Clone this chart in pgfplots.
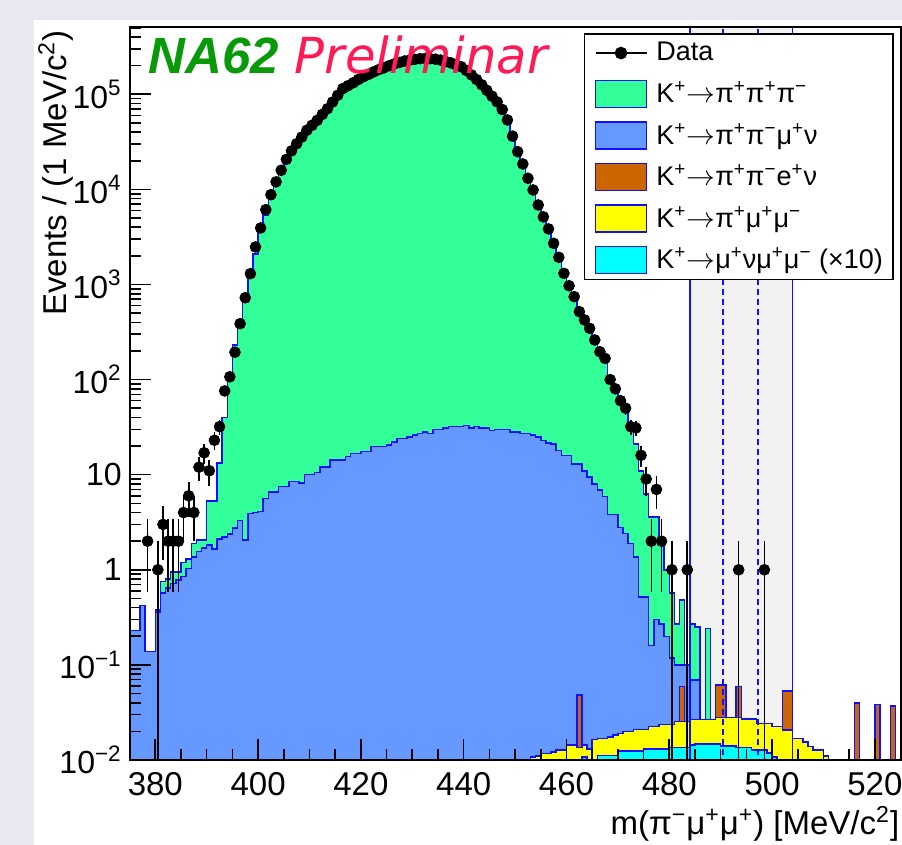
\documentclass[border=0pt]{standalone}
\usepackage{fontspec}
\setmainfont{Liberation Sans}
\newfontfamily\dejavu{DejaVu Sans}
\usepackage{pgfplots}
\usepackage{pgfplotstable}
\pgfplotsset{compat=1.18}
\definecolor{bgl}{HTML}{E8E8F0}
\definecolor{gfill}{HTML}{33FF99}
\definecolor{bfill}{HTML}{6699FF}
\definecolor{ofill}{HTML}{CC6600}
\definecolor{yfill}{HTML}{FFFF00}
\definecolor{cfill}{HTML}{00FFFF}
\definecolor{outl}{HTML}{1010FF}
\definecolor{bandc}{HTML}{F2F2F2}
\definecolor{nagreen}{HTML}{089A08}
\definecolor{prered}{HTML}{FF1A55}

\pgfplotstableread{
x C Y O B G
375 0.001 0.001 0.001 0.23 0.23
376 0.001 0.001 0.001 0.23 0.23
377 0.001 0.001 0.001 0.42 0.42
378 0.001 0.001 0.001 0.138 0.138
379 0.001 0.001 0.001 0.138 0.138
380 0.001 0.001 0.001 0.36 0.38
381 0.001 0.001 0.001 0.57 0.75
382 0.001 0.001 0.001 0.64 0.8
383 0.001 0.001 0.001 0.72 0.95
384 0.001 0.001 0.001 0.78 0.95
385 0.001 0.001 0.001 0.85 1.2
386 0.001 0.001 0.001 1.03 1.3
387 0.001 0.001 0.001 1.37 1.88
388 0.001 0.001 0.001 1.55 2.06
389 0.001 0.001 0.001 1.70 2.06
390 0.001 0.001 0.001 1.83 5.3
391 0.001 0.001 0.001 1.65 5.3
392 0.001 0.001 0.001 2.1 13.2
393 0.001 0.001 0.001 2.2 40
394 0.001 0.001 0.001 2.37 110
395 0.001 0.001 0.001 2.75 230
396 0.001 0.001 0.001 3.3 400
397 0.001 0.001 0.001 2.06 650
398 0.001 0.001 0.001 3.9 1200
399 0.001 0.001 0.001 4.0 2100
400 0.001 0.001 0.001 4.1 3600
401 0.001 0.001 0.001 5.6 5400
402 0.001 0.001 0.001 6.6 7800
403 0.001 0.001 0.001 6.6 10800
404 0.001 0.001 0.001 7.5 14500
405 0.001 0.001 0.001 7.5 19000
406 0.001 0.001 0.001 8.5 24000
407 0.001 0.001 0.001 8.5 29000
408 0.001 0.001 0.001 8.2 34000
409 0.001 0.001 0.001 10 40000
410 0.001 0.001 0.001 10 45000
411 0.001 0.001 0.001 10.5 51000
412 0.001 0.001 0.001 12.1 59000
413 0.001 0.001 0.001 12.1 67000
414 0.001 0.001 0.001 14.3 78000
415 0.001 0.001 0.001 14.3 92000
416 0.001 0.001 0.001 14.3 107000
417 0.001 0.001 0.001 15.5 116000
418 0.001 0.001 0.001 16.7 125000
419 0.001 0.001 0.001 16.7 135000
420 0.001 0.001 0.001 17.5 145000
421 0.001 0.001 0.001 17.5 154000
422 0.001 0.001 0.001 19.7 163000
423 0.001 0.001 0.001 19.7 172000
424 0.001 0.001 0.001 19.7 180000
425 0.001 0.001 0.001 20.5 188000
426 0.001 0.001 0.001 22 196000
427 0.001 0.001 0.001 24 203000
428 0.001 0.001 0.001 24 210000
429 0.001 0.001 0.001 25 215000
430 0.001 0.001 0.001 26 219000
431 0.001 0.001 0.001 27 222000
432 0.001 0.001 0.001 28 223000
433 0.001 0.001 0.001 27 222000
434 0.001 0.001 0.001 30 220000
435 0.001 0.001 0.001 30 216000
436 0.001 0.001 0.001 31 210000
437 0.001 0.001 0.001 32 204000
438 0.001 0.001 0.001 32 196000
439 0.001 0.001 0.001 32 188000
440 0.001 0.001 0.001 33 175000
441 0.001 0.001 0.001 31 160000
442 0.001 0.001 0.001 32 145000
443 0.001 0.001 0.001 31 129000
444 0.001 0.001 0.001 31 114000
445 0.001 0.001 0.001 29 99000
446 0.001 0.001 0.001 30 87000
447 0.001 0.001 0.001 30 73000
448 0.001 0.001 0.001 30 57000
449 0.001 0.001 0.001 28 39000
450 0.001 0.001 0.001 28 27000
451 0.001 0.001 0.001 27 20000
452 0.001 0.001 0.001 27 14200
453 0.001 0.0108 0.0108 26 10700
454 0.001 0.011 0.011 25 7400
455 0.001 0.0117 0.0117 23 5600
456 0.001 0.0117 0.0117 21.5 4200
457 0.001 0.0122 0.0122 21 2950
458 0.001 0.0127 0.0127 18 2100
459 0.001 0.0127 0.0127 16 1430
460 0.001 0.0144 0.0144 16 1060
461 0.001 0.0144 0.0144 13 810
462 0.001 0.0135 0.048 13 570
463 0.0108 0.0144 0.0144 11 465
464 0.001 0.013 0.013 9.5 380
465 0.001 0.0165 0.0165 8 285
466 0.0112 0.0169 0.0169 6.9 215
467 0.0112 0.0169 0.0169 5.9 175
468 0.0112 0.0175 0.0175 3.8 108
469 0.0112 0.0183 0.0183 3.8 86
470 0.0125 0.019 0.019 2.8 64
471 0.0125 0.02 0.02 2.4 50
472 0.0125 0.02 0.02 1.9 32
473 0.0125 0.021 0.021 1.37 21
474 0.0125 0.021 0.021 0.52 11
475 0.013 0.021 0.021 0.52 6.3
476 0.013 0.0224 0.0224 0.16 3.6
477 0.013 0.0224 0.0224 0.3 3.6
478 0.013 0.0236 0.0236 0.27 2.0
479 0.013 0.0236 0.0236 0.2 1.0
480 0.0136 0.0236 0.0236 0.118 0.57
481 0.0136 0.0253 0.0253 0.1 0.27
482 0.0136 0.0253 0.059 0.1 0.48
483 0.0136 0.0253 0.0253 0.1 0.1
484 0.0144 0.0268 0.0268 0.069 0.27
485 0.0147 0.0268 0.0268 0.069 0.25
486 0.0147 0.0268 0.0268 0.0268 0.0268
487 0.0147 0.0268 0.0268 0.0268 0.24
488 0.0147 0.0268 0.0268 0.0268 0.0268
489 0.0147 0.028 0.0615 0.0615 0.0615
490 0.014 0.028 0.0615 0.0615 0.0615
491 0.014 0.028 0.028 0.028 0.028
492 0.014 0.028 0.028 0.028 0.028
493 0.0136 0.028 0.059 0.059 0.059
494 0.0136 0.027 0.027 0.027 0.027
495 0.0136 0.027 0.027 0.027 0.027
496 0.0127 0.027 0.027 0.027 0.027
497 0.0127 0.0242 0.0242 0.0242 0.0242
498 0.0127 0.0242 0.0242 0.0242 0.0242
499 0.0118 0.0242 0.0242 0.0242 0.0242
500 0.0108 0.0224 0.0224 0.0224 0.0224
501 0.009 0.0224 0.0224 0.0224 0.0224
502 0.001 0.0207 0.053 0.053 0.053
503 0.001 0.0207 0.053 0.053 0.053
504 0.001 0.0169 0.0169 0.0169 0.0169
505 0.001 0.0169 0.0169 0.0169 0.0169
506 0.001 0.0155 0.0155 0.0155 0.0155
507 0.001 0.0138 0.0138 0.0138 0.0138
508 0.001 0.0127 0.0127 0.0127 0.0127
509 0.001 0.0127 0.0127 0.0127 0.0127
510 0.001 0.011 0.011 0.011 0.011
511 0.001 0.0096 0.0096 0.0096 0.0096
512 0.001 0.001 0.001 0.001 0.001
513 0.001 0.001 0.001 0.001 0.001
514 0.001 0.001 0.001 0.001 0.001
515 0.001 0.001 0.001 0.001 0.001
516 0.001 0.001 0.0398 0.0398 0.0398
517 0.001 0.001 0.001 0.001 0.001
518 0.001 0.001 0.001 0.001 0.001
519 0.001 0.001 0.001 0.001 0.001
520 0.001 0.001 0.0385 0.0385 0.0385
521 0.001 0.001 0.001 0.001 0.001
522 0.001 0.001 0.001 0.001 0.001
523 0.001 0.001 0.037 0.037 0.037
524 0.001 0.001 0.001 0.001 0.001
525 0.001 0.001 0.001 0.001 0.001
}\hist

\pgfplotstableread{
x y ex ep em
378.5 2 0.5 1.414 1.414
380.5 1 0.5 1 0.999
381.5 3 0.5 1.732 1.732
382.5 2 0.5 1.414 1.414
383.5 2 0.5 1.414 1.414
384.5 2 0.5 1.414 1.414
385.5 4 0.5 2 2
386.5 6 0.5 2.449 2.449
387.5 4 0.5 2 2
388.5 12 0.5 3.464 3.464
389.5 17 0.5 4.123 4.123
390.5 11 0.5 3.317 3.317
391.5 23 0.5 4.796 4.796
392.5 32 0.5 5.657 5.657
393.5 76 0.5 8.718 8.718
394.5 107 0.5 10.34 10.34
395.5 194 0.5 13.93 13.93
396.5 387 0.5 19.67 19.67
397.5 726 0.5 26.9 26.9
398.5 1300 0.5 36.1 36.1
399.5 2480 0.5 49.8 49.8
400.5 3930 0.5 62.7 62.7
401.5 6120 0.5 78.2 78.2
402.5 8800 0.5 93.8 93.8
403.5 12000 0.5 109.5 109.5
404.5 15900 0.5 126.1 126.1
405.5 20700 0.5 143.9 143.9
406.5 25400 0.5 159.4 159.4
407.5 30200 0.5 173.8 173.8
408.5 35500 0.5 188.4 188.4
409.5 41900 0.5 204.7 204.7
410.5 47200 0.5 217.3 217.3
411.5 53200 0.5 230.7 230.7
412.5 61500 0.5 248 248
413.5 70500 0.5 265.5 265.5
414.5 83000 0.5 288 288
415.5 97700 0.5 313 313
416.5 115000 0.5 339 339
417.5 123000 0.5 351 351
418.5 132000 0.5 363 363
419.5 143000 0.5 378 378
420.5 153000 0.5 391 391
421.5 162000 0.5 402 402
422.5 172000 0.5 415 415
423.5 182000 0.5 427 427
424.5 190000 0.5 436 436
425.5 200000 0.5 447 447
426.5 209000 0.5 457 457
427.5 216000 0.5 465 465
428.5 224000 0.5 473 473
429.5 229000 0.5 479 479
430.5 233000 0.5 483 483
431.5 237000 0.5 487 487
432.5 238000 0.5 488 488
433.5 237000 0.5 487 487
434.5 234000 0.5 484 484
435.5 229000 0.5 479 479
436.5 221000 0.5 470 470
437.5 214000 0.5 463 463
438.5 204000 0.5 452 452
439.5 195000 0.5 442 442
440.5 178000 0.5 422 422
441.5 160000 0.5 400 400
442.5 143000 0.5 378 378
443.5 126000 0.5 355 355
444.5 110000 0.5 332 332
445.5 95500 0.5 309 309
446.5 83200 0.5 288 288
447.5 69200 0.5 263 263
448.5 53700 0.5 232 232
449.5 36300 0.5 191 191
450.5 24900 0.5 158 158
451.5 18500 0.5 136 136
452.5 13100 0.5 114 114
453.5 9870 0.5 99 99
454.5 6860 0.5 83 83
455.5 5140 0.5 72 72
456.5 3840 0.5 62 62
457.5 2710 0.5 52 52
458.5 1930 0.5 44 44
459.5 1310 0.5 36 36
460.5 970 0.5 31 31
461.5 745 0.5 27.3 27.3
462.5 518 0.5 22.8 22.8
463.5 424 0.5 20.6 20.6
464.5 346 0.5 18.6 18.6
465.5 261 0.5 16.2 16.2
466.5 196 0.5 14 14
467.5 167 0.5 12.9 12.9
468.5 100 0.5 10 10
469.5 80 0.5 8.94 8.94
470.5 60 0.5 7.75 7.75
471.5 50 0.5 7.07 7.07
472.5 32 0.5 5.66 5.66
473.5 31 0.5 5.57 5.57
474.5 16 0.5 4 4
475.5 9 0.5 3 3
476.5 2 0.5 1.414 1.414
477.5 7 0.5 2.646 2.646
478.5 2 0.5 1.414 1.414
480.5 1 0.5 1 0.999
483.5 1 0.5 1 0.999
493.5 1 0.5 1 0.999
498.5 1 0.5 1 0.999
}\data

\begin{document}
\begin{tikzpicture}[x=1pt,y=1pt]
\useasboundingbox (-64.8,-42.5) rectangle (386.2,380);
\fill[bgl] (-64.8,-42.5) rectangle (386.2,380);
\fill[white] (-47.8,-42.5) rectangle (386.2,370);
\begin{axis}[
  at={(0pt,0pt)}, anchor=south west, scale only axis,
  width=385.5pt, height=366.35pt,
  xmin=375, xmax=525, ymode=log, ymin=0.01, ymax=5.064e5,
  log origin y=infty,
  axis on top,
  axis line style={line width=1pt},
  xtick={380,400,...,520},
  xticklabels={380,400,420,440,460,480,500,520},
  minor x tick num=3,
  ytick={0.01,0.1,1,10,100,1000,10000,100000},
  yticklabels={10\textsuperscript{−2},10\textsuperscript{−1},1,10,10\textsuperscript{2},10\textsuperscript{3},10\textsuperscript{4},10\textsuperscript{5}},
  minor ytick={0.02,0.03,0.04,0.05,0.06,0.07,0.08,0.09,0.2,0.3,0.4,0.5,0.6,0.7,0.8,0.9,2,3,4,5,6,7,8,9,20,30,40,50,60,70,80,90,200,300,400,500,600,700,800,900,2000,3000,4000,5000,6000,7000,8000,9000,20000,30000,40000,50000,60000,70000,80000,90000,200000,300000,400000,500000},
  xtick pos=left, ytick pos=left,
  tick align=inside,
  major tick length=10.5pt, minor tick length=5.5pt,
  every tick/.append style={black, line width=0.8pt},
  xticklabel style={font=\fontsize{16.5pt}{18pt}\selectfont, anchor=north, inner sep=0pt, yshift=-6pt},
  yticklabel style={font=\fontsize{16pt}{18pt}\selectfont, anchor=east, inner sep=0pt, xshift=-3.8pt},
  legend cell align=left,
  legend style={at={(axis description cs:0.9909,0.9918)}, anchor=north east,
    draw=black, line width=0.75pt, fill=white,
    font=\fontsize{13.5pt}{16pt}\selectfont,
    inner xsep=5pt, inner ysep=2.75pt, row sep=6.5pt,
    nodes={inner sep=0pt},
    /tikz/every odd column/.append style={column sep=4.5pt}},
]
% legend entries
\addlegendimage{legend image code/.code={\path[draw=none,fill=none] (0pt,-6.75pt) rectangle (25.5pt,6.75pt); \draw[black,line width=0.9pt] (0pt,0pt) -- (25.5pt,0pt); \fill[black] (12.75pt,0pt) circle (2.8pt);}}
\addlegendentry{Data}
\addlegendimage{legend image code/.code={\draw[fill=gfill,draw=outl,line width=0.75pt] (0pt,-6.75pt) rectangle (25.5pt,6.75pt);}}
\addlegendentry{K\textsuperscript{+}$\rightarrow$π\textsuperscript{+}π\textsuperscript{+}π\textsuperscript{−}}
\addlegendimage{legend image code/.code={\draw[fill=bfill,draw=outl,line width=0.75pt] (0pt,-6.75pt) rectangle (25.5pt,6.75pt);}}
\addlegendentry{K\textsuperscript{+}$\rightarrow$π\textsuperscript{+}π\textsuperscript{−}μ\textsuperscript{+}ν}
\addlegendimage{legend image code/.code={\draw[fill=ofill,draw=outl,line width=0.75pt] (0pt,-6.75pt) rectangle (25.5pt,6.75pt);}}
\addlegendentry{K\textsuperscript{+}$\rightarrow$π\textsuperscript{+}π\textsuperscript{−}e\textsuperscript{+}ν}
\addlegendimage{legend image code/.code={\draw[fill=yfill,draw=outl,line width=0.75pt] (0pt,-6.75pt) rectangle (25.5pt,6.75pt);}}
\addlegendentry{K\textsuperscript{+}$\rightarrow$π\textsuperscript{+}μ\textsuperscript{+}μ\textsuperscript{−}}
\addlegendimage{legend image code/.code={\draw[fill=cfill,draw=outl,line width=0.75pt] (0pt,-6.75pt) rectangle (25.5pt,6.75pt);}}
\addlegendentry{K\textsuperscript{+}$\rightarrow$μ\textsuperscript{+}νμ\textsuperscript{+}μ\textsuperscript{−} (×10)}

% signal band
\addplot[forget plot, draw=none, fill=bandc] coordinates {(484,1e6) (504,1e6)} \closedcycle;

% stacked histograms (cumulative)
\addplot[forget plot, const plot, fill=gfill, draw=outl, line width=0.75pt] table[x=x,y=G]{\hist} \closedcycle;
\addplot[forget plot, const plot, fill=bfill, draw=outl, line width=0.75pt] table[x=x,y=B]{\hist} \closedcycle;
\addplot[forget plot, const plot, fill=ofill, draw=outl, line width=0.75pt] table[x=x,y=O]{\hist} \closedcycle;
\addplot[forget plot, const plot, fill=yfill, draw=outl, line width=0.75pt] table[x=x,y=Y]{\hist} \closedcycle;
\addplot[forget plot, const plot, fill=cfill, draw=outl, line width=0.75pt] table[x=x,y=C]{\hist} \closedcycle;

% band lines
\addplot[forget plot, outl, line width=0.75pt] coordinates {(484,0.001) (484,1e6)};
\addplot[forget plot, outl, line width=0.75pt] coordinates {(504,0.001) (504,1e6)};
\addplot[forget plot, outl, line width=0.75pt, dash pattern=on 3pt off 2pt] coordinates {(490.4,0.001) (490.4,1e6)};
\addplot[forget plot, outl, line width=0.75pt, dash pattern=on 3pt off 2pt] coordinates {(497.3,0.001) (497.3,1e6)};

% data
\addplot[forget plot, only marks, mark=*, mark size=2.7pt, black,
  error bars/.cd, x dir=both, x explicit, y dir=both, y explicit,
  error mark=none, error bar style={line width=0.8pt, black}]
  table[x=x, y=y, x error=ex, y error plus=ep, y error minus=em]{\data};
\end{axis}
\node[anchor=base west, inner sep=0pt, text=nagreen, font=\fontsize{25.5pt}{30pt}\selectfont\bfseries\itshape] at (9.2,343) {NA62};
\node[anchor=base west, inner sep=0pt, text=prered, font=\dejavu\itshape\fontsize{24.8pt}{30pt}\selectfont] at (82.5,343) {Preliminar};
\node[rotate=90, anchor=base east, inner sep=0pt, font=\fontsize{16.5pt}{20pt}\selectfont] at (-31.3,365) {Events / (1 MeV/c\textsuperscript{2})};
\node[anchor=base east, inner sep=0pt, font=\fontsize{16.5pt}{20pt}\selectfont] at (385,-37.5) {m(π\textsuperscript{−}μ\textsuperscript{+}μ\textsuperscript{+}) [MeV/c\textsuperscript{2}]};
\end{tikzpicture}
\end{document}
